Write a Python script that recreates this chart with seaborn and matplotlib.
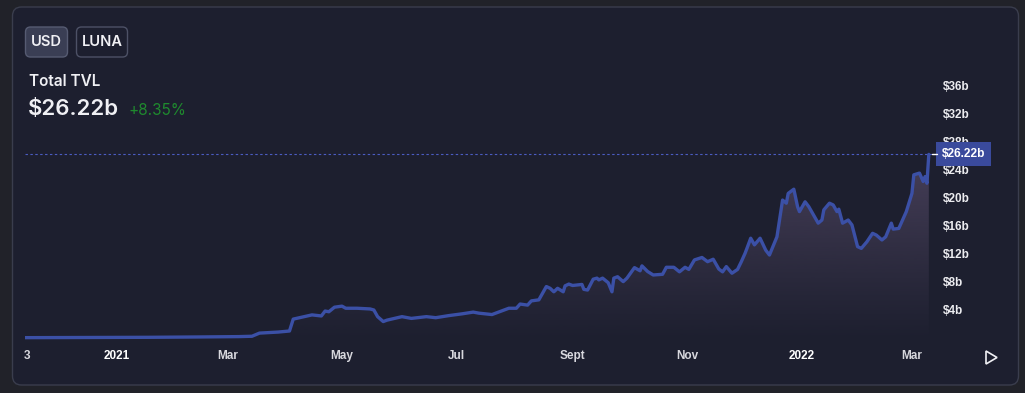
import numpy as np
import pandas as pd
import matplotlib
matplotlib.use("Agg")
import matplotlib.pyplot as plt
import matplotlib.dates as mdates
import matplotlib.transforms as mtransforms
from matplotlib.patches import FancyBboxPatch, Polygon
import seaborn as sns

# Total TVL (billions USD)
dates = [
    "2020-11-13", "2021-01-18", "2021-02-14", "2021-03-07", "2021-03-14", "2021-03-18",
    "2021-03-28", "2021-04-03", "2021-04-05", "2021-04-10", "2021-04-15", "2021-04-20",
    "2021-04-22", "2021-04-24", "2021-04-27", "2021-05-01", "2021-05-03", "2021-05-09",
    "2021-05-16", "2021-05-18", "2021-05-20", "2021-05-23", "2021-05-25", "2021-06-02",
    "2021-06-07", "2021-06-15", "2021-06-20", "2021-06-27", "2021-07-04", "2021-07-10",
    "2021-07-13", "2021-07-20", "2021-07-24", "2021-07-29", "2021-08-02", "2021-08-04",
    "2021-08-08", "2021-08-10", "2021-08-14", "2021-08-18", "2021-08-20", "2021-08-22",
    "2021-08-24", "2021-08-27", "2021-08-28", "2021-08-30", "2021-09-01", "2021-09-06",
    "2021-09-07", "2021-09-09", "2021-09-12", "2021-09-14", "2021-09-15", "2021-09-17",
    "2021-09-20", "2021-09-22", "2021-09-23", "2021-09-25", "2021-09-28", "2021-09-30",
    "2021-10-04", "2021-10-07", "2021-10-08", "2021-10-11", "2021-10-14", "2021-10-19",
    "2021-10-21", "2021-10-25", "2021-10-28", "2021-10-31", "2021-11-02", "2021-11-05",
    "2021-11-09", "2021-11-12", "2021-11-15", "2021-11-18", "2021-11-20", "2021-11-22",
    "2021-11-25", "2021-11-28", "2021-11-30", "2021-12-02", "2021-12-03", "2021-12-05",
    "2021-12-07", "2021-12-10", "2021-12-13", "2021-12-15", "2021-12-19", "2021-12-22",
    "2021-12-24", "2021-12-25", "2021-12-28", "2021-12-30", "2021-12-31", "2022-01-03",
    "2022-01-05", "2022-01-10", "2022-01-12", "2022-01-13", "2022-01-16", "2022-01-18",
    "2022-01-20", "2022-01-21", "2022-01-23", "2022-01-26", "2022-01-28", "2022-01-31",
    "2022-02-02", "2022-02-05", "2022-02-08", "2022-02-10", "2022-02-13", "2022-02-15",
    "2022-02-18", "2022-02-19", "2022-02-22", "2022-02-26", "2022-03-01", "2022-03-02",
    "2022-03-05", "2022-03-07", "2022-03-08", "2022-03-09", "2022-03-10",
]
tvl = [
    0.05, 0.1, 0.15, 0.2, 0.25, 0.7,
    0.85, 1.0, 2.7, 3.0, 3.3, 3.15,
    3.85, 3.75, 4.4, 4.55, 4.25, 4.25,
    4.15, 4.0, 3.05, 2.35, 2.55, 3.05,
    2.8, 3.05, 2.9, 3.2, 3.45, 3.7,
    3.55, 3.35, 3.75, 4.25, 4.25, 4.85,
    4.7, 5.3, 5.45, 7.35, 7.1, 6.6,
    7.1, 6.6, 7.45, 7.7, 7.5, 7.65,
    6.95, 6.85, 8.4, 8.55, 8.3, 8.55,
    7.9, 6.6, 8.55, 8.75, 8.05, 8.55,
    10.05, 9.6, 10.3, 9.5, 9.0, 9.1,
    10.1, 10.1, 9.45, 10.1, 9.8, 11.15,
    11.5, 10.9, 11.25, 9.85, 9.45, 10.2,
    9.25, 9.8, 10.9, 12.1, 12.8, 14.25,
    13.3, 14.25, 12.55, 11.85, 14.45, 19.7,
    19.25, 20.65, 21.25, 18.75, 18.05, 19.45,
    18.75, 16.4, 16.85, 18.3, 19.25, 19.0,
    18.05, 18.4, 16.4, 16.85, 16.15, 13.05,
    12.8, 13.75, 14.95, 14.7, 14.0, 14.45,
    16.4, 15.55, 15.65, 18.05, 20.65, 23.3,
    23.55, 22.35, 23.05, 22.1, 26.22,
]
tick_dates = ["2020-11-14", "2021-01-01", "2021-03-01", "2021-05-01", "2021-07-01",
              "2021-09-01", "2021-11-01", "2022-01-01", "2022-03-01"]
tick_labels = ["3", "2021", "Mar", "May", "Jul", "Sept", "Nov", "2022", "Mar"]
y_ticks = [4, 8, 12, 16, 20, 24, 28, 32, 36]
current = 26.22
change = "+8.35%"

df = pd.DataFrame({"date": pd.to_datetime(dates), "tvl": tvl})

W, H = 1025, 393
OUTER = "#212229"
CARD = "#1d1f2f"
LINE = "#3b50a6"
TEXT = "#f0f0f4"

sns.set_style("dark", {"axes.facecolor": CARD, "figure.facecolor": OUTER})
plt.rcParams["font.family"] = ["DejaVu Sans"]

fig = plt.figure(figsize=(W / 100, H / 100), dpi=100)
px = mtransforms.IdentityTransform()


def fy(y):
    # image y (from top) to display y (from bottom)
    return H - y


# card
fig.patches.append(FancyBboxPatch((12.5, fy(385)), 1006, 378,
                                  boxstyle="round,pad=0,rounding_size=9", zorder=-10,
                                  fc=CARD, ec="#3a3d4d", lw=1.0, transform=px, figure=fig))
# currency buttons
fig.patches.append(FancyBboxPatch((25.5, fy(57)), 42, 30, boxstyle="round,pad=0,rounding_size=5",
                                  fc="#3a3e54", ec="#565b72", lw=1.0, transform=px, figure=fig,
                                  zorder=-5))
fig.patches.append(FancyBboxPatch((76.5, fy(57)), 51, 30, boxstyle="round,pad=0,rounding_size=5",
                                  fc="none", ec="#4d5166", lw=1.0, transform=px, figure=fig,
                                  zorder=-5))
hdr = ["Inter", "DejaVu Sans"]
fig.text(46.5 / W, 1 - 42 / H, "USD", color=TEXT, fontsize=10.5, ha="center", va="center",
         family=hdr, weight="semibold")
fig.text(102 / W, 1 - 42 / H, "LUNA", color=TEXT, fontsize=10.5, ha="center", va="center",
         family=hdr, weight="semibold")
fig.text(29 / W, 1 - 86 / H, "Total TVL", color=TEXT, fontsize=11, ha="left", va="baseline",
         family=hdr, weight="semibold")
fig.text(28 / W, 1 - 115 / H, "$26.22b", color=TEXT, fontsize=16, ha="left", va="baseline",
         family=hdr, weight="semibold")
fig.text(128 / W, 1 - 115 / H, change, color="#1f8a2e", fontsize=11, ha="left", va="baseline",
         family=hdr)

# play button
fig.patches.append(Polygon([[986, fy(351)], [986, fy(364)], [997, fy(357.5)]], closed=True,
                           fc="none", ec=TEXT, lw=1.2, transform=px, figure=fig))

ax = fig.add_axes([25 / W, 1 - 342 / H, (932 - 25) / W, (342 - 60) / H])
ax.set_facecolor("none")

sns.lineplot(data=df, x="date", y="tvl", ax=ax, color=LINE, lw=2.4, zorder=3)

# gradient fill under the line
xnum = mdates.date2num(df["date"])
x0 = mdates.date2num(pd.Timestamp("2021-01-01")) - 49.07
x1 = mdates.date2num(pd.Timestamp("2021-01-01")) + 434.7
y0, y1 = -0.57, 39.7
poly = ax.fill_between(xnum, df["tvl"], y0, color="none", lw=0)
grad = np.zeros((256, 1, 4))
grad[:, :, :3] = matplotlib.colors.to_rgb("#514763")
grad[:, 0, 3] = np.linspace(0.0, 1.0, 256) ** 1.1 * 0.85
im = ax.imshow(grad, extent=[x0, x1, y0, 27], aspect="auto", origin="lower", zorder=1)
im.set_clip_path(poly.get_paths()[0], transform=ax.transData)

ax.axhline(current, color="#4b5cc2", lw=0.8, ls=(0, (2.2, 2.2)), zorder=2)

ax.set_xlim(x0, x1)
ax.set_ylim(y0, y1)
ax.set_xlabel("")
ax.set_ylabel("")
for s in ax.spines.values():
    s.set_visible(False)
ax.grid(False)

tick_font = ["Liberation Sans", "DejaVu Sans"]
ax.set_xticks(mdates.date2num(pd.to_datetime(tick_dates)))
ax.set_xticklabels(tick_labels)
for lab in ax.get_xticklabels():
    if lab.get_text() in ("2021", "2022"):
        lab.set_color("#ffffff")
    else:
        lab.set_color("#d8d8de")
    lab.set_fontweight("bold")
    lab.set_fontsize(8.5)
    lab.set_family(tick_font)
ax.tick_params(axis="x", length=0, pad=5.5)

ax.yaxis.tick_right()
ax.set_yticks(y_ticks)
ax.set_yticklabels([f"${v}b" for v in y_ticks])
ax.tick_params(axis="y", length=0, pad=7.5, labelsize=8.5, labelcolor="#ececf0")
for lab in ax.get_yticklabels():
    lab.set_fontweight("bold")
    lab.set_family(tick_font)

# current value marker on the right axis
blend = mtransforms.blended_transform_factory(ax.transAxes, ax.transData)
ax.text(1.0105, current, "$26.22b", transform=blend, ha="left", va="center", color="#ffffff",
        fontsize=8.6, fontweight="bold", family=tick_font, zorder=5,
        bbox=dict(boxstyle="square,pad=0.5", fc="#3a4a9c", ec="none"))
ax.plot([0.9995, 1.006], [current, current], transform=blend, color="#ffffff", lw=1.0,
        clip_on=False, zorder=6)

fig.savefig("out.png", dpi=100, facecolor=OUTER)
